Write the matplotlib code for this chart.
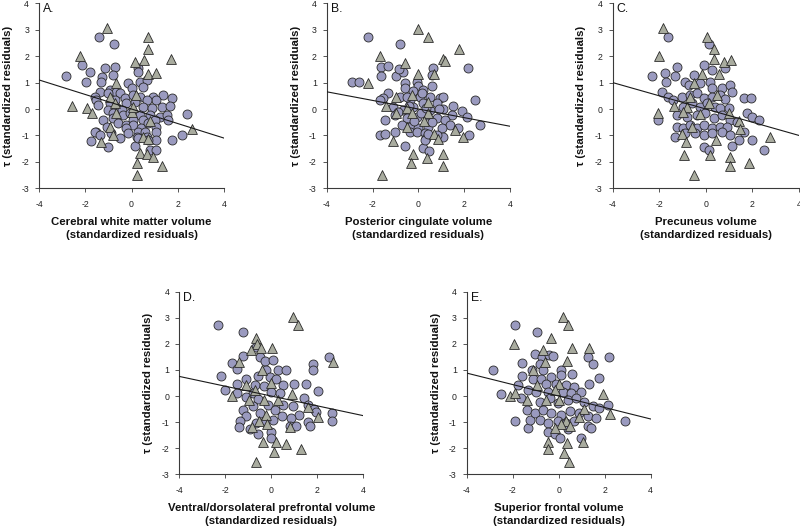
import matplotlib
matplotlib.use("Agg")
import matplotlib.pyplot as plt
import numpy as np

plt.rcParams['font.family'] = ['Liberation Sans', 'DejaVu Sans']

panel_letters = ["A.", "B.", "C.", "D.", "E."]
x_titles = [
    "Cerebral white matter volume\n(standardized residuals)",
    "Posterior cingulate volume\n(standardized residuals)",
    "Precuneus volume\n(standardized residuals)",
    "Ventral/dorsolateral prefrontal volume\n(standardized residuals)",
    "Superior frontal volume\n(standardized residuals)",
]
y_title = "τ (standardized residuals)"
x_ticks = [-4, -2, 0, 2, 4]
y_ticks = [-3, -2, -1, 0, 1, 2, 3, 4]

# fitted regression slopes (intercept ~0)
fit_slope = [-0.275, -0.163, -0.25, -0.188, -0.22]

# ---------------- Panel A ----------------
a_circ_x = [-1.40,-0.75,-2.82,-2.12,-1.80,-1.16,-0.72,-1.26,-0.79,0.26,0.29,
            -1.95,-1.34,-0.14,0.36,0.65,0,0.51,-0.91,-0.65,-1.37,
            -1.59,-1.52,-1.01,-0.51,-0.29,0.07,0.36,0.94,1.37,1.73,1.08,0.65,-0.72,
            -1.44,-0.94,-0.65,-0.22,0.14,0.51,0.87,1.30,1.66,-0.43,-1.01,
            -0.79,-0.36,-0.07,0.36,0.79,1.23,1.52,2.38,-0.79,0.07,0.51,1.01,1.59,
            -1.23,-0.58,-0.22,0.07,0.43,0.72,1.08,-1.52,-0.22,0.29,0.58,
            -1.59,-1.37,-1.08,-0.87,-0.51,-0.14,0.22,0.65,1.08,2.17,1.73,1.08,
            -1.73,-1.01,0.14,0.29,0.72,0.79,1.08]
a_circ_y = [2.74,2.45,1.25,1.66,1.39,1.56,1.60,1.22,1.29,1.54,1.41,
            1.03,1.03,1.00,1.03,1.10,0.78,0.82,0.72,0.66,0.66,
            0.47,0.34,0.59,0.59,0.40,0.53,0.47,0.47,0.53,0.40,0.34,0.34,0.34,
            0.15,0.21,0.09,0.21,0.28,0.09,0.03,0.09,0.11,-0.04,-0.04,
            -0.16,-0.23,-0.16,-0.23,-0.23,-0.29,-0.23,-0.19,-0.35,-0.42,-0.42,-0.42,-0.42,
            -0.42,-0.54,-0.61,-0.61,-0.73,-0.54,-0.67,-0.86,-0.73,-0.86,-0.86,
            -0.86,-0.98,-0.67,-0.92,-1.11,-0.92,-1.05,-1.05,-0.86,-0.98,-1.17,-1.17,
            -1.21,-1.42,-1.39,-1.11,-1.17,-1.55,-1.55]
a_tri_x = [-1.08,0.72,-2.24,0.72,0.14,0.53,1.69,0.72,1.05,-0.68,-2.56,-1.92,-1.69,0.19,
           -0.91,-0.72,-0.65,0,0.07,0.79,2.6,-0.94,-0.79,-1.34,0.48,0.72,0.36,0.65,0.94,
           0.22,1.34,0.25]
a_tri_y = [3.05,2.74,2.0,2.26,1.79,1.85,1.88,1.32,1.37,1.0,0.11,0.03,-0.16,0.53,
           0.44,0.21,-0.16,-0.1,0.06,-0.44,-0.77,-0.67,-0.98,-1.24,-1.05,-1.15,-1.68,-1.7,-1.83,
           -2.06,-2.16,-2.5]

# ---------------- Panel B ----------------
b_circ_x = [-2.21,-0.8,-2.91,-2.57,-1.63,-1.31,-1.63,-0.97,-0.68,-0.83,0.63,0.58,2.15,
            -0.58,-0.07,0,-0.58,-0.22,0.22,0.58,0.51,0.95,1.09,
            -1.31,-1.53,-1.67,
            -0.8,-0.36,0.07,0.22,0.8,1.53,1.89,2.11,2.47,2.69,2.23,
            -1.09,-0.65,-0.22,0.51,1.09,1.45,
            -1.45,-1.02,-0.51,-0.07,0.36,0.8,1.16,1.38,
            -0.73,-0.36,0,0.44,1.02,1.75,
            -1.67,-1.45,-1.02,-0.36,-0.07,0.29,1.09,0.8,
            -0.58,0.33,0.22,0.48,0.29,
            -0.4,0.1,0.35,-0.9,0.6,-0.2,0.15,-0.5,0.9,0.4]
b_circ_y = [2.74,2.45,1.03,1.03,1.6,1.63,1.25,1.25,1.41,1.5,1.54,1.29,1.54,
            0.97,1.03,0.87,0.78,0.69,0.72,0.87,0.47,0.4,0.47,
            0.59,0.4,0.34,
            0.47,0.34,0.47,0.21,0.21,0.11,-0.06,-0.29,0.34,-0.61,-0.98,
            0.09,-0.04,0.09,-0.04,-0.01,-0.23,
            -0.42,-0.23,-0.35,-0.29,-0.23,-0.35,-0.42,-0.61,
            -0.61,-0.67,-0.73,-0.67,-0.73,-0.73,
            -0.98,-0.95,-0.86,-0.86,-0.86,-0.92,-1.05,-0.98,
            -1.39,-1.11,-1.49,-1.58,-1.17,
            0.1,-0.15,0.05,-0.1,-0.5,-0.45,0.6,0.45,0.0,-0.95]
b_tri_x = [0,0.44,1.79,-1.67,-0.58,1.06,1.16,0,0.7,-2.21,-0.97,-0.29,-1.41,0.44,-0.51,
           -0.97,-0.29,0.44,0.25,-0.48,0.68,0.84,1.6,1.93,-1.09,-0.22,-0.33,0.36,1.06,1.06,-1.6]
b_tri_y = [3.01,2.71,2.26,2.0,1.75,1.88,1.83,1.32,1.32,1.0,0.47,0.53,0.11,0.28,0.03,
           -0.16,-0.16,-0.14,-0.44,-0.67,-0.95,-1.15,-0.8,-1.07,-1.2,-1.7,-2.06,-1.87,-1.7,-2.16,-2.5]

# ---------------- Panel C ----------------
c_circ_x = [-1.61,0.12,-2.33,-1.76,-1.71,-1.25,-1.33,-1.9,-1.61,-1.4,-2.05,
            -0.1,0.26,0.84,-0.53,-0.89,-0.71,-0.24,0.19,0.26,0.69,1.02,1.12,
            -1.04,-0.68,-0.39,-0.1,0.26,0.62,0.84,1.63,1.92,
            -1.25,-0.97,-0.61,-0.24,0.04,0.4,0.62,0.98,1.77,1.99,2.28,
            -0.82,-0.39,-0.03,0.33,0.69,1.05,1.34,
            -1.25,-0.97,-0.68,-0.39,-0.1,0.26,0.62,0.91,1.63,
            -1.33,-0.89,-0.46,-0.1,0.26,0.69,1.05,1.41,1.99,
            -0.1,0.12,1.12,2.49]
c_circ_y = [2.74,2.46,1.25,1.37,1.03,1.6,1.25,0.66,0.47,0.34,-0.42,
            1.66,1.48,1.54,1.29,1.03,0.91,1.0,1.03,0.78,0.78,0.91,0.66,
            0.47,0.53,0.59,0.4,0.47,0.53,0.37,0.4,0.4,
            -0.23,0.09,0.21,0.09,0.21,0.09,0.03,0.03,-0.16,-0.29,-0.42,
            -0.29,-0.23,-0.16,-0.35,-0.23,-0.42,-0.48,
            -0.67,-0.73,-0.61,-0.73,-0.61,-0.73,-0.67,-0.67,-0.86,
            -1.05,-0.92,-0.92,-0.98,-0.92,-0.86,-0.98,-1.17,-1.17,
            -1.42,-1.55,-1.4,-1.55]
c_tri_x = [-1.83,0.07,0.37,-2.0,0.37,0.76,1.1,-0.17,0.55,-0.53,-2.07,-1.37,-0.68,-0.79,-0.97,
           -0.24,0.14,0.48,1.01,1.41,1.45,2.75,-0.61,-1.04,-0.85,0.45,-0.92,0.16,1.05,1.02,1.84,-0.5]
c_tri_y = [3.05,2.74,2.26,2.0,1.88,1.79,1.85,1.32,1.32,1.0,-0.16,0.11,0.47,0.06,-0.1,
           -0.19,0.24,0.53,-0.14,-0.44,-0.77,-1.07,-0.69,-0.95,-1.24,-1.17,-1.74,-1.74,-1.83,-2.16,-2.06,-2.5]

# ---------------- Panel D ----------------
d_circ_x = [-2.31,-1.23,-2.2,-2.02,-1.73,-1.48,-1.25,-1.11,-1.51,-1.48,
            -0.68,-0.5,-0.29,0.07,0.29,0.65,-0.22,-0.58,-0.07,0.22,0.5,0.97,1.51,1.8,1.83,2.03,2.49,2.66,2.66,
            -0.72,-0.33,0,0.36,-0.79,-1.08,-0.58,
            -1.23,-1.11,-1.37,-1.41,-0.79,-0.5,-0.14,0.14,0.5,0.94,1.44,1.58,1.87,1.22,0.86,0.48,0.07,
            -0.29,-0.65,0.82,1.08,1.58,1.69,1.95,-0.58,0,0,-0.92]
d_circ_y = [2.72,2.45,0.75,0.25,1.26,1.04,1.55,0.67,0.48,0.1,
            1.89,1.51,1.36,1.38,1.0,1.0,1.0,0.75,0.73,0.67,0.42,0.48,0.48,1.23,0.98,0.2,1.51,-0.65,-0.97,
            0.42,0.38,0.16,0.1,0.1,-0.03,-0.13,
            -0.53,-0.78,-0.97,-1.19,-0.4,-0.65,-0.34,-0.53,-0.34,-0.4,-0.09,-0.34,-0.5,-0.72,-0.84,-0.78,-0.91,
            -0.97,-1.03,-1.13,-1.16,-1.01,-1.16,-0.63,-1.47,-1.38,-1.6,-1.28]
d_tri_x = [0.94,1.15,-0.68,-0.62,-0.43,-0.89,0.04,-1.4,-0.39,-1.11,0,-1.69,-0.97,-0.72,-0.33,0.29,
           0.91,2.69,1.58,2.02,-0.22,-0.53,-0.19,-0.86,0.82,-0.36,0.22,0.65,1.3,0.1,-0.65]
d_tri_y = [3.02,2.72,2.24,2.01,1.86,1.76,1.84,1.3,0.98,0.42,0.5,0,-0.15,0.25,-0.15,-0.15,
           0.08,1.32,-0.43,-0.81,-0.72,-0.97,-1.09,-1.18,-1.18,-1.76,-1.76,-1.85,-2.04,-2.14,-2.52]

# ---------------- Panel E ----------------
e_circ_x = [-1.91,-0.94,-2.85,-2.53,-1.58,-1.58,-1.76,-1.66,-1.36,-1.91,-1.33,-1.23,
            -1.04,-0.71,-0.43,-0.25,-0.83,-1.15,-0.68,0.11,0.11,0.58,1.26,1.51,2.2,1.77,1.33,
            -1.12,-0.76,-0.32,-0.54,-0.11,0.32,0.68,-1.33,-0.97,-0.47,0.18,0.54,0.97,
            -0.83,-0.4,-0.04,0.4,0.76,1.12,1.48,1.77,2.13,
            -1.04,-0.68,-0.32,0.11,0.47,0.9,1.26,1.62,2.89,
            -0.83,-0.47,-0.04,0.32,0.68,1.26,1.4,
            -0.47,-0.18,0.07,0.97,0.4]
e_circ_y = [2.72,2.45,1.01,0.08,1.26,0.75,0.44,-0.09,-0.53,-0.97,-1.22,-0.93,
            1.61,1.51,1.58,1.55,1.23,1.01,1.01,1.01,0.79,0.86,1.51,1.23,1.51,0.69,0.48,
            0.67,0.67,0.73,0.45,0.48,0.42,0.35,0.25,0.16,0.16,0.16,0.1,0.16,
            -0.21,-0.09,-0.28,-0.15,-0.09,-0.21,-0.4,-0.47,-0.34,
            -0.65,-0.53,-0.65,-0.72,-0.59,-0.65,-0.78,-0.84,-0.97,
            -0.91,-1.03,-0.97,-1.03,-0.97,-1.16,-1.22,
            -1.38,-1.47,-1.6,-1.6,-1.28]
e_tri_x = [0.18,0.4,-1.94,-0.32,-0.68,0.58,1.33,0.35,-0.61,-1.12,-0.94,0.01,-2.1,-1.91,-1.4,-0.54,
           -0.18,0.01,1.91,1.12,2.23,0.9,0.32,0.11,0.47,-0.18,-0.47,-0.47,0.35,1.07,0.25,0.44]
e_tri_y = [3.02,2.72,1.99,2.21,1.76,1.86,1.84,1.36,1.3,0.98,0.42,0.48,0,0.13,-0.15,-0.15,
           0.23,-0.15,0.08,-0.5,-0.68,-0.81,-0.97,-1.09,-1.16,-1.22,-1.76,-2.04,-1.81,-1.76,-2.19,-2.52]

circ_x = [a_circ_x, b_circ_x, c_circ_x, d_circ_x, e_circ_x]
circ_y = [a_circ_y, b_circ_y, c_circ_y, d_circ_y, e_circ_y]
tri_x = [a_tri_x, b_tri_x, c_tri_x, d_tri_x, e_tri_x]
tri_y = [a_tri_y, b_tri_y, c_tri_y, d_tri_y, e_tri_y]

W, H = 800, 532
# axes boxes in pixels: left, top, right, bottom
boxes = [
    (39, 3.3, 224, 188.3),
    (326.7, 3.3, 510, 188.3),
    (612.7, 3.3, 799, 188.3),
    (179.3, 291.7, 363.3, 474.3),
    (466.7, 291.7, 650.7, 474.3),
]

circ_color = "#9a9abf"
tri_color = "#a9ac9f"
edge_color = "#2a2a2a"
axis_color = "#3a3a3a"

fig = plt.figure(figsize=(W / 100, H / 100), dpi=100)

for i in range(5):
    l, t, r, b = boxes[i]
    ax = fig.add_axes([l / W, (H - b) / H, (r - l) / W, (b - t) / H])
    ax.set_xlim(-4, 4)
    ax.set_ylim(-3, 4)
    ax.scatter(circ_x[i], circ_y[i], s=42, marker='o', facecolor=circ_color,
               edgecolor=edge_color, linewidth=0.6, zorder=2)
    ax.scatter(tri_x[i], tri_y[i], s=50, marker='^', facecolor=tri_color,
               edgecolor=edge_color, linewidth=0.6, zorder=3)
    xl = np.array([-4.0, 4.0])
    ax.plot(xl, fit_slope[i] * xl, color="#1a1a1a", linewidth=0.8, zorder=4)

    for s in ['top', 'right']:
        ax.spines[s].set_visible(False)
    for s in ['left', 'bottom']:
        ax.spines[s].set_color(axis_color)
        ax.spines[s].set_linewidth(0.8)
    ax.set_xticks(x_ticks)
    ax.set_yticks(y_ticks)
    ax.set_xticklabels([str(v) for v in x_ticks])
    ax.set_yticklabels([str(v) for v in y_ticks])
    ax.tick_params(axis='both', direction='out', length=2.6, width=0.6,
                   color=axis_color, labelsize=6.3, labelcolor="#222222")
    ax.tick_params(axis='x', pad=5.5)
    ax.tick_params(axis='y', pad=4.5)

    ax.set_xlabel(x_titles[i], fontsize=8.2, fontweight='bold', linespacing=1.4,
                  color="#111111")
    ax.xaxis.set_label_coords(0.5, -0.155, transform=ax.transAxes)
    ax.xaxis.label.set_va('top')
    ax.set_ylabel(y_title, fontsize=8.2, fontweight='bold', color="#111111")
    ax.yaxis.set_label_coords(-0.168, 0.5, transform=ax.transAxes)
    ax.yaxis.label.set_va('center')

    ax.text(0.022, 1.0, panel_letters[i], transform=ax.transAxes, fontsize=8.8,
            ha='left', va='top', color="#111111")
    ax.set_facecolor('white')

fig.savefig("out.png", dpi=100, facecolor='white')
